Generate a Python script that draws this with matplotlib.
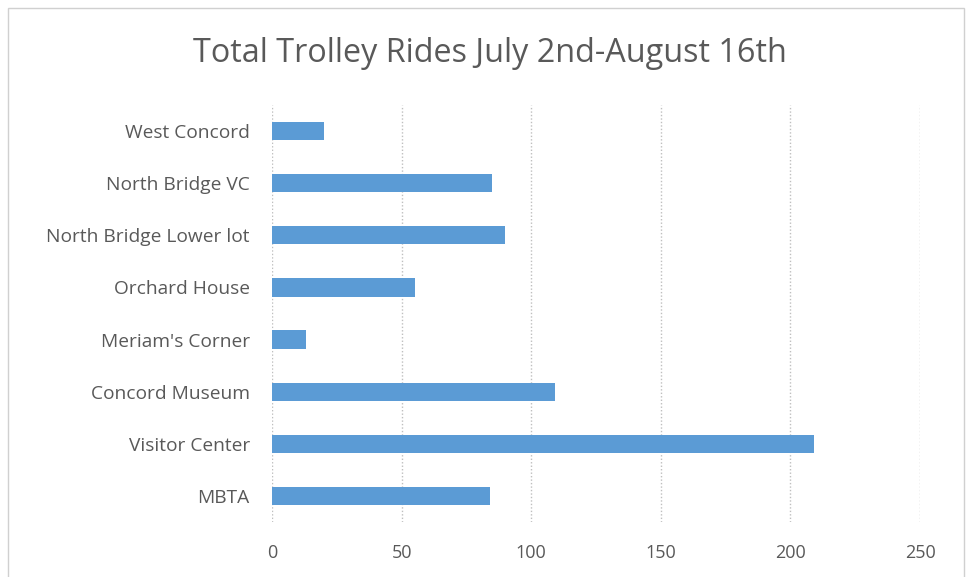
import matplotlib.pyplot as plt
from matplotlib.patches import Rectangle

# stops listed bottom to top, as barh draws them
stops = ["MBTA", "Visitor Center", "Concord Museum", "Meriam's Corner",
         "Orchard House", "North Bridge Lower lot", "North Bridge VC", "West Concord"]
rides = [84, 209, 109, 13, 55, 90, 85, 20]
xticks = [0, 50, 100, 150, 200, 250]

text_col = "#595959"
bar_col = "#5B9BD5"
grid_col = "#BFBFBF"

plt.rcParams["font.family"] = ["Open Sans", "DejaVu Sans"]

fig = plt.figure(figsize=(9.7, 5.77), dpi=100)
ax = fig.add_axes([0.2804, 0.0953, 0.6681, 0.7227])

ax.barh(range(len(stops)), rides, height=0.35, color=bar_col, zorder=3)
ax.set_ylim(-0.5, len(stops) - 0.5)
ax.set_xlim(0, 250)
ax.set_xticks(xticks)
ax.set_xticklabels([str(t) for t in xticks], color=text_col, fontsize=13)
ax.set_yticks(range(len(stops)))
ax.set_yticklabels(stops, color=text_col, fontsize=13.8)
ax.tick_params(axis="y", length=0, pad=16)
ax.tick_params(axis="x", length=0, pad=16)
ax.xaxis.grid(True, linestyle=(0, (1, 1.5)), color=grid_col, linewidth=1, zorder=0)
for s in ax.spines.values():
    s.set_visible(False)

fig.text(0.505, 0.908, "Total Trolley Rides July 2nd-August 16th", ha="center", va="center",
         fontsize=23.3, color=text_col)

# chart area border
fig.patches.append(Rectangle((8 / 970, -0.01), 956 / 970, 1 - 8 / 577 + 0.01,
                             transform=fig.transFigure, fill=False,
                             edgecolor="#D0D0D0", linewidth=1))

fig.savefig("out.png", dpi=100)
